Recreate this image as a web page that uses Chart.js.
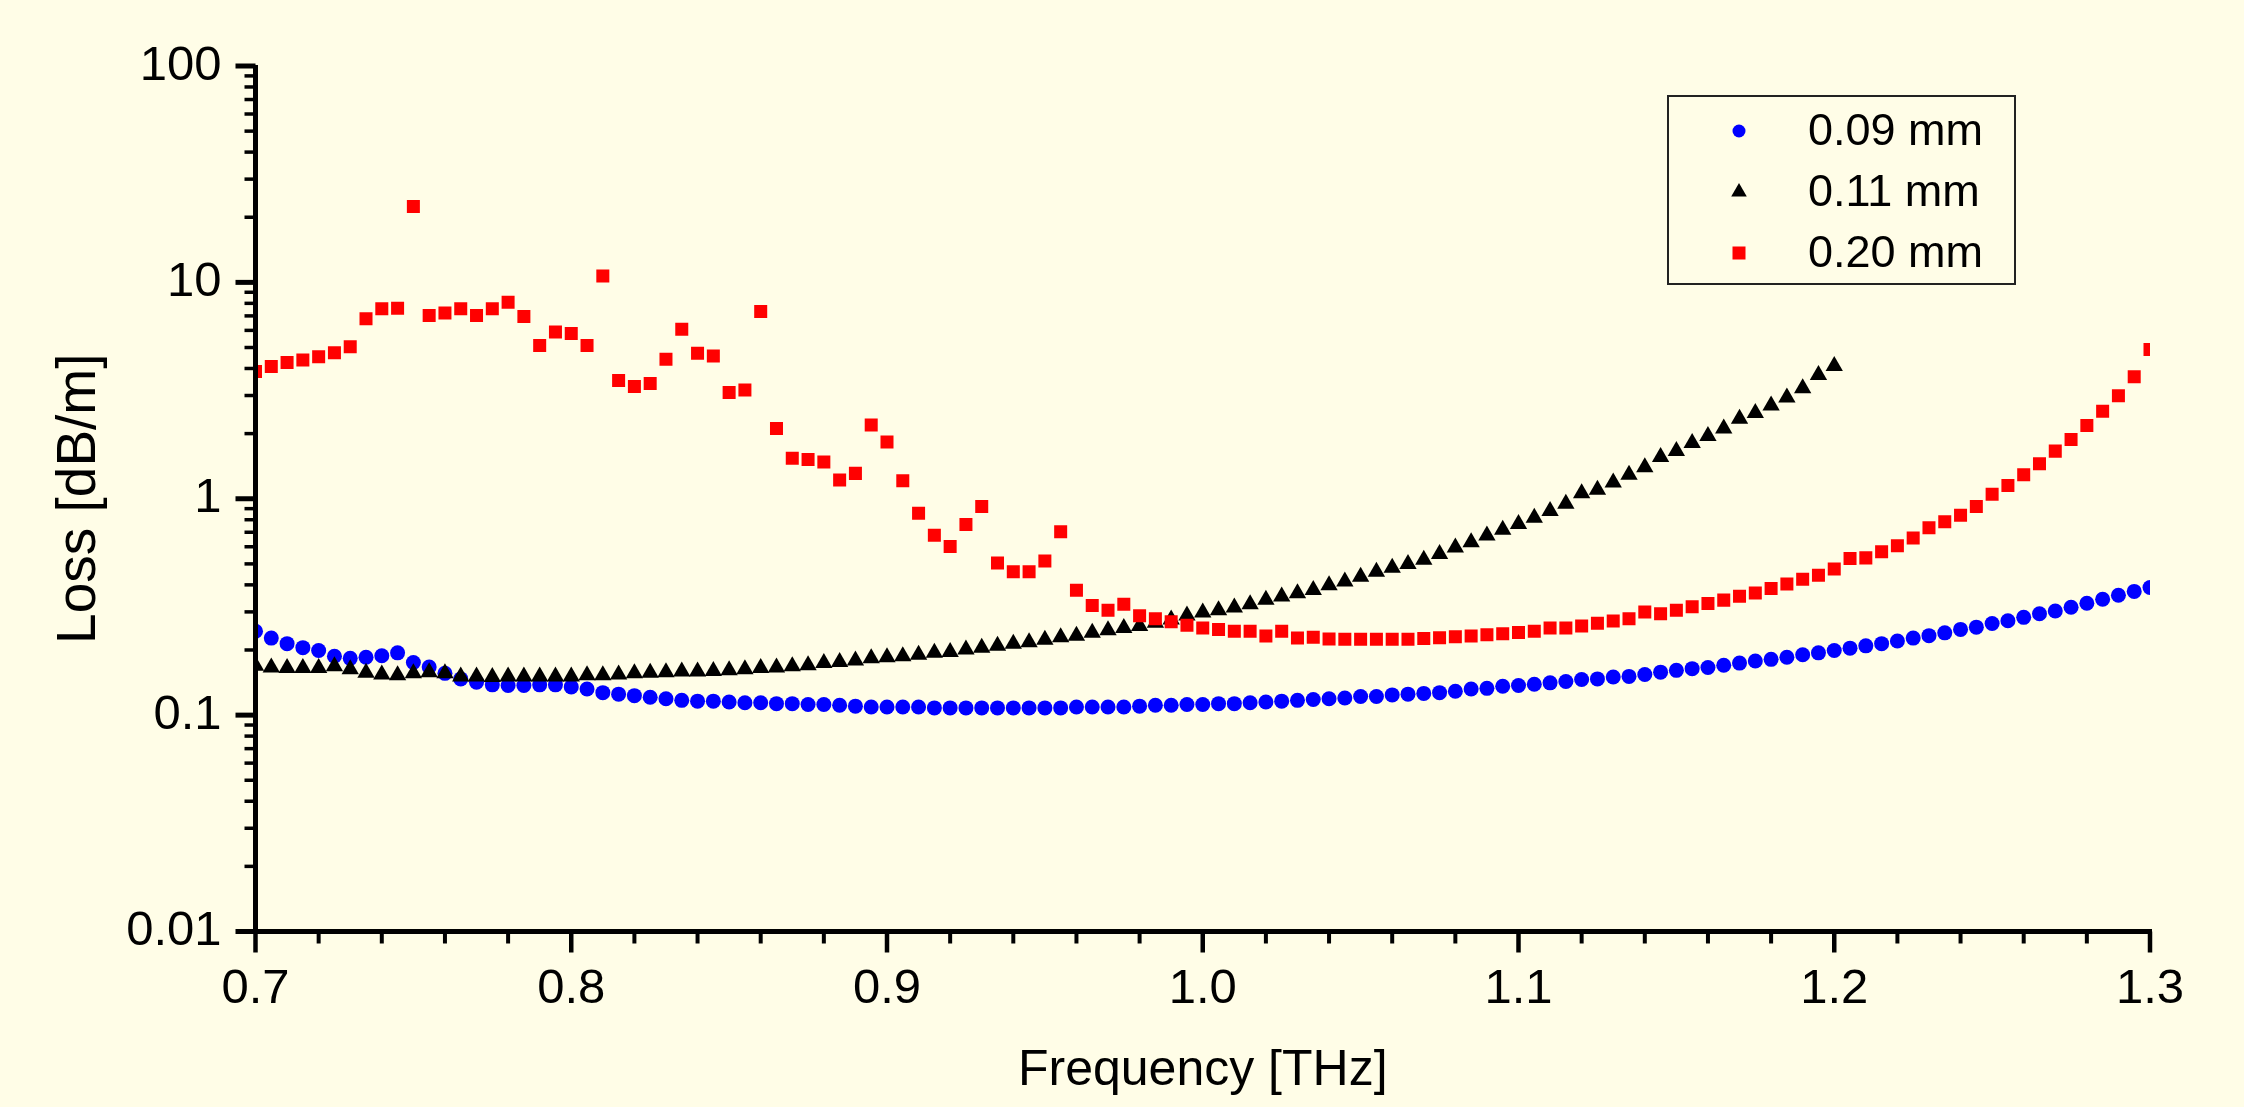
<!DOCTYPE html>
<html lang="en">
  <head>
    <meta charset="UTF-8" />
    <title>Loss vs Frequency</title>
    <script src="https://cdn.jsdelivr.net/npm/chart.js@4.4.1/dist/chart.umd.min.js"></script>
    <style>
      html, body { margin: 0; padding: 0; background: #fffde7; }
      #wrap { width: 2244px; height: 1107px; }
    </style>
  </head>
  <body>
    <div id="wrap"><canvas id="lossChart" width="2244" height="1107"></canvas></div>
    <script>
      // frequency [THz], one row per 0.05 THz
      const freq = [
        0.700, 0.705, 0.710, 0.715, 0.720, 0.725, 0.730, 0.735, 0.740, 0.745,
        0.750, 0.755, 0.760, 0.765, 0.770, 0.775, 0.780, 0.785, 0.790, 0.795,
        0.800, 0.805, 0.810, 0.815, 0.820, 0.825, 0.830, 0.835, 0.840, 0.845,
        0.850, 0.855, 0.860, 0.865, 0.870, 0.875, 0.880, 0.885, 0.890, 0.895,
        0.900, 0.905, 0.910, 0.915, 0.920, 0.925, 0.930, 0.935, 0.940, 0.945,
        0.950, 0.955, 0.960, 0.965, 0.970, 0.975, 0.980, 0.985, 0.990, 0.995,
        1.000, 1.005, 1.010, 1.015, 1.020, 1.025, 1.030, 1.035, 1.040, 1.045,
        1.050, 1.055, 1.060, 1.065, 1.070, 1.075, 1.080, 1.085, 1.090, 1.095,
        1.100, 1.105, 1.110, 1.115, 1.120, 1.125, 1.130, 1.135, 1.140, 1.145,
        1.150, 1.155, 1.160, 1.165, 1.170, 1.175, 1.180, 1.185, 1.190, 1.195,
        1.200, 1.205, 1.210, 1.215, 1.220, 1.225, 1.230, 1.235, 1.240, 1.245,
        1.250, 1.255, 1.260, 1.265, 1.270, 1.275, 1.280, 1.285, 1.290, 1.295,
        1.300
      ];

      // loss [dB/m]
      const loss009 = [
        0.244, 0.227, 0.214, 0.205, 0.199, 0.187, 0.183, 0.185, 0.188, 0.194,
        0.175, 0.167, 0.156, 0.147, 0.142, 0.138, 0.137, 0.137, 0.138, 0.138,
        0.135, 0.132, 0.127, 0.125, 0.123, 0.121, 0.119, 0.117, 0.116, 0.116,
        0.115, 0.114, 0.114, 0.113, 0.113, 0.112, 0.112, 0.111, 0.110, 0.109,
        0.109, 0.109, 0.109, 0.108, 0.108, 0.108, 0.108, 0.108, 0.108, 0.108,
        0.108, 0.108, 0.109, 0.109, 0.109, 0.109, 0.110, 0.111, 0.111, 0.112,
        0.112, 0.113, 0.113, 0.114, 0.115, 0.116, 0.117, 0.118, 0.119, 0.120,
        0.122, 0.122, 0.124, 0.125, 0.126, 0.127, 0.129, 0.132, 0.133, 0.136,
        0.137, 0.139, 0.141, 0.143, 0.146, 0.147, 0.150, 0.151, 0.154, 0.158,
        0.161, 0.164, 0.166, 0.170, 0.174, 0.178, 0.181, 0.185, 0.190, 0.194,
        0.199, 0.204, 0.209, 0.214, 0.220, 0.227, 0.233, 0.240, 0.249, 0.255,
        0.265, 0.273, 0.283, 0.294, 0.303, 0.315, 0.329, 0.343, 0.358, 0.373,
        0.389
      ];

      // 0.11 mm stops at 1.2 THz
      const loss011 = [
        0.169, 0.166, 0.165, 0.165, 0.165, 0.168, 0.163, 0.157, 0.154, 0.153,
        0.156, 0.158, 0.156, 0.151, 0.151, 0.150, 0.151, 0.151, 0.151, 0.151,
        0.151, 0.153, 0.153, 0.154, 0.156, 0.157, 0.158, 0.159, 0.159, 0.160,
        0.161, 0.163, 0.165, 0.166, 0.168, 0.170, 0.174, 0.176, 0.179, 0.183,
        0.185, 0.187, 0.190, 0.194, 0.196, 0.201, 0.205, 0.209, 0.214, 0.217,
        0.223, 0.229, 0.233, 0.240, 0.247, 0.253, 0.258, 0.267, 0.277, 0.289,
        0.298, 0.305, 0.314, 0.325, 0.341, 0.353, 0.366, 0.379, 0.398, 0.415,
        0.436, 0.460, 0.480, 0.500, 0.522, 0.555, 0.596, 0.629, 0.676, 0.719,
        0.764, 0.818, 0.878, 0.949, 1.06, 1.10, 1.19, 1.29, 1.40, 1.56,
        1.66, 1.81, 1.95, 2.11, 2.34, 2.49, 2.70, 2.94, 3.24, 3.73,
        4.11
      ];

      const loss020 = [
        3.87, 4.08, 4.26, 4.38, 4.53, 4.73, 5.04, 6.79, 7.55, 7.60,
        22.4, 7.03, 7.21, 7.55, 7.03, 7.55, 8.10, 6.96, 5.11, 5.90,
        5.80, 5.11, 10.7, 3.52, 3.30, 3.41, 4.41, 6.07, 4.70, 4.57,
        3.10, 3.18, 7.34, 2.11, 1.54, 1.52, 1.48, 1.22, 1.31, 2.19,
        1.83, 1.21, 0.858, 0.678, 0.601, 0.761, 0.921, 0.505, 0.460, 0.460,
        0.515, 0.703, 0.378, 0.321, 0.305, 0.325, 0.288, 0.279, 0.270, 0.260,
        0.253, 0.249, 0.244, 0.244, 0.232, 0.244, 0.227, 0.229, 0.225, 0.224,
        0.224, 0.224, 0.224, 0.224, 0.226, 0.228, 0.230, 0.232, 0.235, 0.238,
        0.241, 0.244, 0.253, 0.253, 0.258, 0.266, 0.272, 0.279, 0.300, 0.294,
        0.305, 0.317, 0.328, 0.340, 0.354, 0.367, 0.385, 0.404, 0.425, 0.443,
        0.473, 0.530, 0.533, 0.569, 0.606, 0.658, 0.735, 0.783, 0.838, 0.922,
        1.05, 1.15, 1.29, 1.45, 1.66, 1.88, 2.18, 2.54, 2.99, 3.66,
        4.90
      ];

      const seriesLabels = ["0.09 mm", "0.11 mm", "0.20 mm"];
      const xTicks = [0.7, 0.8, 0.9, 1.0, 1.1, 1.2, 1.3];
      const xTickLabels = ["0.7", "0.8", "0.9", "1.0", "1.1", "1.2", "1.3"];
      const yTicks = [0.01, 0.1, 1, 10, 100];
      const yTickLabels = ["0.01", "0.1", "1", "10", "100"];

      const FONT = "'Liberation Sans', Arial, sans-serif";

      function points(vals) {
        return vals.map((v, i) => ({ x: freq[i], y: v }));
      }

      // Origin style axes: thick lines, outward major/minor ticks
      const originAxes = {
        id: "originAxes",
        afterDatasetsDraw(chart) {
          const { ctx, chartArea: a, scales: { x, y } } = chart;
          const line = (x1, y1, x2, y2, w) => {
            ctx.lineWidth = w;
            ctx.beginPath();
            ctx.moveTo(x1, y1);
            ctx.lineTo(x2, y2);
            ctx.stroke();
          };
          ctx.save();
          ctx.strokeStyle = "#000";
          for (let d = 0; d < yTicks.length - 1; d++) {
            for (let k = 2; k <= 9; k++) {
              const py = y.getPixelForValue(yTicks[d] * k);
              line(a.left - 11, py, a.left, py, 3.5);
            }
          }
          yTicks.forEach((v) => {
            const py = y.getPixelForValue(v);
            line(a.left - 20, py, a.left, py, 5);
          });
          for (let i = 0; i < xTicks.length - 1; i++) {
            for (let j = 1; j < 5; j++) {
              const v = xTicks[i] + ((xTicks[i + 1] - xTicks[i]) * j) / 5;
              const px = x.getPixelForValue(v);
              line(px, a.bottom, px, a.bottom + 12, 4);
            }
          }
          xTicks.forEach((v) => {
            const px = x.getPixelForValue(v);
            line(px, a.bottom, px, a.bottom + 21, 4.5);
          });
          line(a.left, a.top - 1, a.left, a.bottom + 2.5, 5);
          line(a.left - 2.5, a.bottom, a.right + 2, a.bottom, 5);
          ctx.restore();
        },
      };

      // boxed legend inside the plot, top right
      const legendBox = {
        id: "legendBox",
        afterDraw(chart) {
          const { ctx, chartArea: a } = chart;
          const w = 347, h = 188;
          const bx = a.right - 135 - w;
          const by = a.top + 30;
          ctx.save();
          ctx.lineWidth = 2;
          ctx.strokeStyle = "#222";
          ctx.strokeRect(bx, by, w, h);
          chart.data.datasets.forEach((ds, i) => {
            const cy = by + 35 + i * 61;
            ctx.fillStyle = ds.backgroundColor;
            Chart.helpers.drawPoint(
              ctx,
              { pointStyle: ds.pointStyle, radius: ds.legendRadius, rotation: 0, borderWidth: 0 },
              bx + 71,
              cy
            );
            ctx.fillStyle = "#000";
            ctx.font = "45px " + FONT;
            ctx.textBaseline = "middle";
            ctx.textAlign = "left";
            ctx.fillText(ds.label, bx + 140, cy + 1.5);
          });
          ctx.restore();
        },
      };

      const data = {
        datasets: [
          {
            label: seriesLabels[0],
            data: points(loss009),
            pointStyle: "circle",
            pointRadius: 7.5,
            legendRadius: 6.5,
            backgroundColor: "#0000ff",
            borderColor: "#0000ff",
            borderWidth: 0,
            order: 3,
            clip: 0,
          },
          {
            label: seriesLabels[1],
            data: points(loss011),
            pointStyle: "triangle",
            pointRadius: 10,
            legendRadius: 9,
            backgroundColor: "#000000",
            borderColor: "#000000",
            borderWidth: 0,
            order: 2,
            clip: 0,
          },
          {
            label: seriesLabels[2],
            data: points(loss020),
            pointStyle: "rect",
            pointRadius: 9.2,
            legendRadius: 9.2,
            backgroundColor: "#ff0000",
            borderColor: "#ff0000",
            borderWidth: 0,
            order: 1,
            clip: 0,
          },
        ],
      };

      const config = {
        type: "scatter",
        data: data,
        plugins: [originAxes, legendBox],
        options: {
          responsive: false,
          devicePixelRatio: 1,
          animation: false,
          layout: { padding: { left: 0, top: 66, right: 94, bottom: 0 } },
          plugins: {
            legend: { display: false },
            tooltip: { enabled: false },
          },
          elements: { point: { hoverRadius: 0 } },
          scales: {
            x: {
              type: "linear",
              position: "bottom",
              min: 0.7,
              max: 1.3,
              grid: { display: false, drawTicks: false },
              border: { display: false },
              afterBuildTicks: (s) => {
                s.ticks = xTicks.map((v) => ({ value: v }));
              },
              afterFit: (s) => {
                s.height = 175.5;
              },
              ticks: {
                autoSkip: false,
                maxRotation: 0,
                padding: 29,
                color: "#000",
                font: { family: FONT, size: 49, lineHeight: 1.2 },
                callback: (v, i) => xTickLabels[i],
              },
              title: {
                display: true,
                text: "Frequency [THz]",
                color: "#000",
                font: { family: FONT, size: 50, lineHeight: 1.2 },
                padding: { top: 0, bottom: 6 },
              },
            },
            y: {
              type: "logarithmic",
              min: 0.01,
              max: 100,
              grid: { display: false, drawTicks: false },
              border: { display: false },
              afterBuildTicks: (s) => {
                s.ticks = yTicks.map((v) => ({ value: v, major: true }));
              },
              afterFit: (s) => {
                s.width = 255.5;
              },
              ticks: {
                autoSkip: false,
                padding: 34,
                color: "#000",
                font: { family: FONT, size: 49, lineHeight: 1.2 },
                callback: (v, i) => yTickLabels[i],
              },
              title: {
                display: true,
                text: "Loss [dB/m]",
                color: "#000",
                font: { family: FONT, size: 55, lineHeight: 1.2 },
                padding: { top: 47, bottom: 0 },
              },
            },
          },
        },
      };

      const lossChart = new Chart(document.getElementById("lossChart"), config);
    </script>
  </body>
</html>
